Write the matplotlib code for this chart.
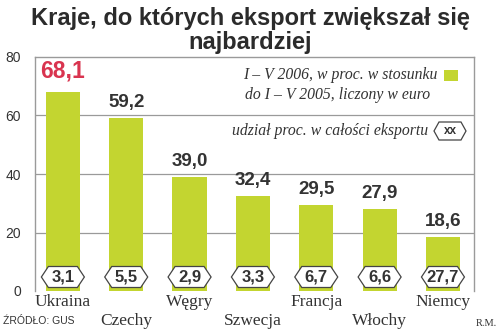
import matplotlib
matplotlib.use("Agg")
import matplotlib.pyplot as plt
from matplotlib.patches import Polygon, Rectangle

categories = ["Ukraina", "Czechy", "Węgry", "Szwecja", "Francja", "Włochy", "Niemcy"]
growth = [68.1, 59.2, 39.0, 32.4, 29.5, 27.9, 18.6]
share = [3.1, 5.5, 2.9, 3.3, 6.7, 6.6, 27.7]
yticks = [0, 20, 40, 60, 80]

def fmt(v):
    return f"{v:.1f}".replace(".", ",")

W, H = 500, 330
fig = plt.figure(figsize=(5, 3.3), dpi=100)
fig.patch.set_facecolor("white")

ax_l, ax_r, ax_t, ax_b = 35, 474, 57, 291
ax = fig.add_axes([ax_l / W, 1 - ax_b / H, (ax_r - ax_l) / W, (ax_b - ax_t) / H])
green = "#c3d530"
dark = "#333333"
grid = "#9a9a9a"

x = list(range(len(categories)))
ax.bar(x, growth, width=0.54, color=green, zorder=2)
ax.set_xlim(-0.44, 6.49)
ax.set_ylim(0, 80)
ax.set_yticks(yticks)
ax.set_yticklabels([str(t) for t in yticks], fontsize=10, color=dark, family="Liberation Sans")
ax.tick_params(axis="y", length=0, pad=10)
ax.set_xticks([])
for t in yticks[1:-1]:
    ax.axhline(t, color=grid, lw=0.9, zorder=1)
for s in ["left", "top", "right"]:
    ax.spines[s].set_color(grid)
    ax.spines[s].set_linewidth(1.0)
ax.spines["bottom"].set_visible(False)

# value labels
for i, v in enumerate(growth):
    if i == 0:
        ax.annotate(fmt(v), (i, v), xytext=(0, 7), textcoords="offset points",
                    ha="center", va="bottom", fontsize=16.5, fontweight="bold",
                    color="#d9344f", family="Liberation Sans")
    else:
        ax.annotate(fmt(v), (i, v), xytext=(0, 5), textcoords="offset points",
                    ha="center", va="bottom", fontsize=13.5, fontweight="bold",
                    color=dark, family="Liberation Sans")

# hexagon share labels
px_x = (6.49 + 0.44) / (ax_r - ax_l)
px_y = 80 / (ax_b - ax_t)
hw, hh, tip = 21.5, 10.5, 7
yc = 14 * px_y
for i, s in enumerate(share):
    verts = [(i - hw * px_x, yc), (i - (hw - tip) * px_x, yc + hh * px_y),
             (i + (hw - tip) * px_x, yc + hh * px_y), (i + hw * px_x, yc),
             (i + (hw - tip) * px_x, yc - hh * px_y), (i - (hw - tip) * px_x, yc - hh * px_y)]
    ax.add_patch(Polygon(verts, closed=True, facecolor="white", edgecolor="#444444",
                         lw=0.9, zorder=3))
    ax.text(i, yc, fmt(s), ha="center", va="center", fontsize=12, fontweight="bold",
            color=dark, family="Liberation Sans", zorder=4)

# category labels, alternating rows
for i, c in enumerate(categories):
    ypx = 302 if i % 2 == 0 else 321
    fig.text((ax_l + (i + 0.44) / px_x) / W, 1 - ypx / H, c, ha="center", va="center",
             fontsize=12.5, color=dark, family="Liberation Serif")

# title
fig.text(0.5, 1 - 18 / H, "Kraje, do których eksport zwiększał się", ha="center", va="center",
         fontsize=17, fontweight="bold", color="#2b2b2b", family="Liberation Sans")
fig.text(0.5, 1 - 42 / H, "najbardziej", ha="center", va="center",
         fontsize=17, fontweight="bold", color="#2b2b2b", family="Liberation Sans")

# legend
fig.text(437 / W, 1 - 75 / H, "I – V 2006, w proc. w stosunku", ha="right", va="center",
         fontsize=11.3, style="italic", color=dark, family="Liberation Serif")
fig.text(338 / W, 1 - 95 / H, "do I – V 2005, liczony w euro", ha="center", va="center",
         fontsize=11.3, style="italic", color=dark, family="Liberation Serif")
fig.patches.append(Rectangle((444 / W, 1 - 81 / H), 14 / W, 11 / H, transform=fig.transFigure,
                             facecolor=green, edgecolor="none"))
fig.text(428 / W, 1 - 131 / H, "udział proc. w całości eksportu", ha="right", va="center",
         fontsize=11.3, style="italic", color=dark, family="Liberation Serif")
cx, cy = 450, 131
hx, hy, tp = 16, 9, 5
lv = [(cx - hx, cy), (cx - hx + tp, cy - hy), (cx + hx - tp, cy - hy), (cx + hx, cy),
      (cx + hx - tp, cy + hy), (cx - hx + tp, cy + hy)]
fig.patches.append(Polygon([(a / W, 1 - b / H) for a, b in lv], closed=True,
                           transform=fig.transFigure, facecolor="white",
                           edgecolor="#444444", lw=0.9))
fig.text(cx / W, 1 - cy / H, "xx", ha="center", va="center", fontsize=8.5,
         fontweight="bold", color=dark, family="Liberation Sans")

# source / author
fig.text(3 / W, 1 - 321 / H, "ŹRÓDŁO: GUS", ha="left", va="center", fontsize=7.5,
         color=dark, family="Liberation Sans")
fig.text(497 / W, 1 - 323 / H, "R.M.", ha="right", va="center", fontsize=7.5,
         color=dark, family="Liberation Serif")

fig.savefig("out.png", dpi=100, facecolor="white")
